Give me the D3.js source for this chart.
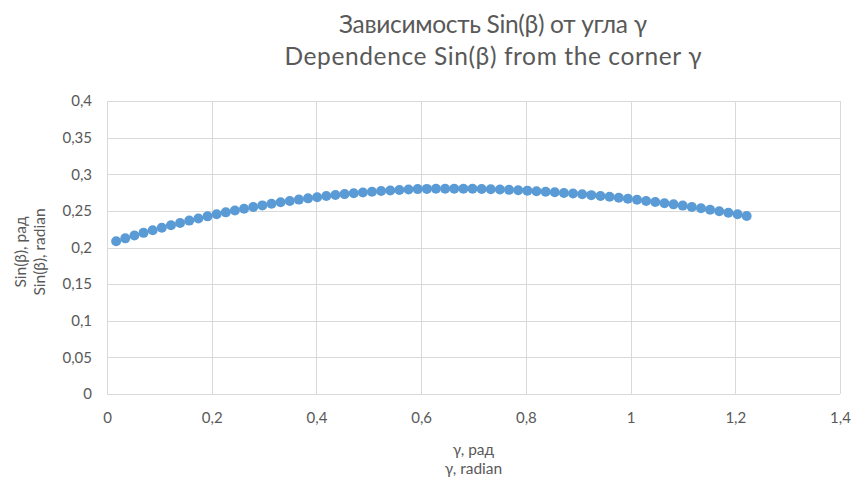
<!DOCTYPE html>
<html>
<head>
<meta charset="utf-8">
<script src="https://cdn.jsdelivr.net/npm/d3@7"></script>
<style>
  body { margin: 0; background: #fff; }
  svg text { font-family: Lato, "Open Sans", sans-serif; fill: #595959; }
</style>
</head>
<body>
<script>
// gamma, radians (1..70 degrees)
const gamma = [0.0175, 0.0349, 0.0524, 0.0698, 0.0873, 0.1047, 0.1222, 0.1396, 0.1571, 0.1745,
  0.1920, 0.2094, 0.2269, 0.2443, 0.2618, 0.2793, 0.2967, 0.3142, 0.3316, 0.3491,
  0.3665, 0.3840, 0.4014, 0.4189, 0.4363, 0.4538, 0.4712, 0.4887, 0.5061, 0.5236,
  0.5411, 0.5585, 0.5760, 0.5934, 0.6109, 0.6283, 0.6458, 0.6632, 0.6807, 0.6981,
  0.7156, 0.7330, 0.7505, 0.7679, 0.7854, 0.8029, 0.8203, 0.8378, 0.8552, 0.8727,
  0.8901, 0.9076, 0.9250, 0.9425, 0.9599, 0.9774, 0.9948, 1.0123, 1.0297, 1.0472,
  1.0647, 1.0821, 1.0996, 1.1170, 1.1345, 1.1519, 1.1694, 1.1868, 1.2043, 1.2217];

// sin(beta)
const sinBeta = [0.2085, 0.2125, 0.2163, 0.2200, 0.2235, 0.2270, 0.2303, 0.2335, 0.2367, 0.2396,
  0.2425, 0.2453, 0.2480, 0.2505, 0.2530, 0.2553, 0.2575, 0.2597, 0.2617, 0.2636,
  0.2654, 0.2671, 0.2687, 0.2702, 0.2716, 0.2729, 0.2741, 0.2752, 0.2762, 0.2771,
  0.2779, 0.2786, 0.2792, 0.2797, 0.2800, 0.2802, 0.2803, 0.2803, 0.2802, 0.2801,
  0.2799, 0.2796, 0.2792, 0.2787, 0.2782, 0.2776, 0.2769, 0.2762, 0.2754, 0.2745,
  0.2736, 0.2726, 0.2715, 0.2704, 0.2692, 0.2679, 0.2665, 0.2651, 0.2636, 0.2621,
  0.2605, 0.2589, 0.2572, 0.2554, 0.2535, 0.2516, 0.2496, 0.2475, 0.2453, 0.2431];

const xTicks = [0, 0.2, 0.4, 0.6, 0.8, 1, 1.2, 1.4];
const yTicks = [0, 0.05, 0.1, 0.15, 0.2, 0.25, 0.3, 0.35, 0.4];

const titleLines = ["Зависимость Sin(β) от угла γ", "Dependence Sin(β) from the corner γ"];
const titleWidths = [308, 417];
const yTitleLines = ["Sin(β), рад", "Sin(β), radian"];
const xTitleLines = ["γ, рад", "γ, radian"];

const width = 853, height = 482;
const margin = {top: 101, right: 13, bottom: 88, left: 107};

const fmt = d => String(d).replace(".", ",");

const svg = d3.select("body").append("svg")
  .attr("width", width)
  .attr("height", height);

const x = d3.scaleLinear().domain([0, 1.4]).range([margin.left, width - margin.right]);
const y = d3.scaleLinear().domain([0, 0.4]).range([height - margin.bottom, margin.top]);

// gridlines
svg.append("g")
  .selectAll("line")
  .data(yTicks)
  .enter().append("line")
  .attr("x1", x(0)).attr("x2", x(1.4))
  .attr("y1", d => Math.round(y(d)) + 0.5).attr("y2", d => Math.round(y(d)) + 0.5)
  .attr("stroke", "#d9d9d9").attr("stroke-width", 1);

svg.append("g")
  .selectAll("line")
  .data(xTicks)
  .enter().append("line")
  .attr("y1", y(0)).attr("y2", y(0.4))
  .attr("x1", d => Math.round(x(d)) + 0.5).attr("x2", d => Math.round(x(d)) + 0.5)
  .attr("stroke", "#d9d9d9").attr("stroke-width", 1);

// axes (labels only)
const xAxis = svg.append("g")
  .attr("transform", "translate(0," + y(0) + ")")
  .call(d3.axisBottom(x).tickValues(xTicks).tickFormat(fmt).tickSize(0));
xAxis.select(".domain").remove();
xAxis.selectAll("text")
  .attr("font-size", 15)
  .attr("fill", "#595959")
  .attr("y", 29)
  .attr("dy", null);

const yAxis = svg.append("g")
  .attr("transform", "translate(" + (x(0) - 15) + ",0)")
  .call(d3.axisLeft(y).tickValues(yTicks).tickFormat(fmt).tickSize(0));
yAxis.select(".domain").remove();
yAxis.selectAll("text")
  .attr("font-size", 15)
  .attr("fill", "#595959")
  .attr("x", 0);

// points
const pts = gamma.map((g, i) => ({g: g, s: sinBeta[i]}));
svg.append("g")
  .selectAll("circle")
  .data(pts)
  .enter().append("circle")
  .attr("cx", d => x(d.g))
  .attr("cy", d => y(d.s))
  .attr("r", 5)
  .attr("fill", "#5b9bd5");

// title
svg.append("g").selectAll("text")
  .data(titleLines)
  .enter().append("text")
  .attr("x", 493)
  .attr("y", (d, i) => 33 + i * 32)
  .attr("text-anchor", "middle")
  .attr("font-size", 24.5)
  .attr("textLength", (d, i) => titleWidths[i])
  .attr("lengthAdjust", "spacing")
  .text(d => d);

// y title
svg.append("g").selectAll("text")
  .data(yTitleLines)
  .enter().append("text")
  .attr("transform", (d, i) => "translate(" + (26 + i * 19) + ",252) rotate(-90)")
  .attr("text-anchor", "middle")
  .attr("font-size", 15.5)
  .text(d => d);

// x title
svg.append("g").selectAll("text")
  .data(xTitleLines)
  .enter().append("text")
  .attr("x", (x(0) + x(1.4)) / 2)
  .attr("y", (d, i) => 455 + i * 19)
  .attr("text-anchor", "middle")
  .attr("font-size", 15.5)
  .text(d => d);
</script>
</body>
</html>
